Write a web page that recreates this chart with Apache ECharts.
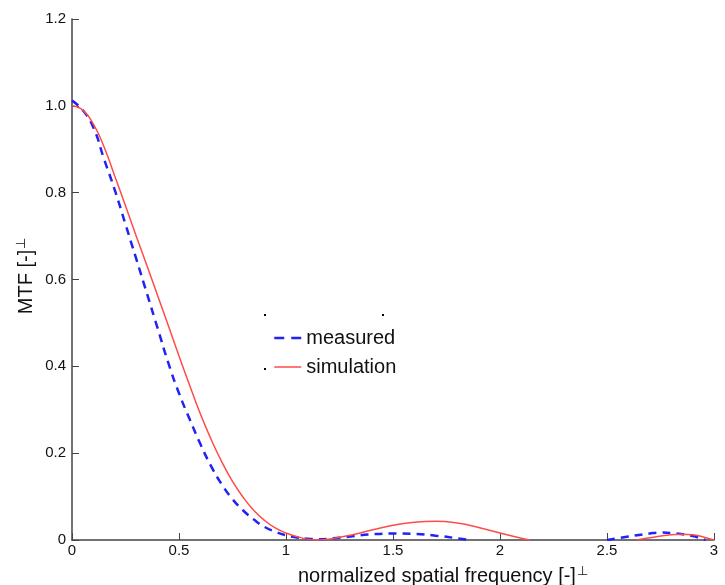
<!DOCTYPE html>
<html><head><meta charset="utf-8">
<script src="https://cdn.jsdelivr.net/npm/echarts@6/dist/echarts.min.js"></script>
<style>html,body{margin:0;padding:0;background:#fff}#c{width:725px;height:585px}</style>
</head><body><div id="c"></div>
<script>
const measX = [0,0.05,0.1,0.15,0.2,0.25,0.3,0.35,0.4,0.45,0.5,0.55,0.6,0.65,0.7,0.75,0.8,0.85,0.9,0.95,1.0,1.05,1.1,1.15,1.2,1.3,1.4,1.5,1.6,1.7,1.8,1.86,null,2.5,2.6,2.7,2.75,2.8,2.9,2.96];
const measY = [1.012,0.99,0.95,0.877,0.806,0.727,0.648,0.568,0.488,0.408,0.338,0.278,0.221,0.17,0.128,0.094,0.068,0.047,0.03,0.019,0.011,0.006,0.003,0.002,0.003,0.008,0.013,0.015,0.014,0.01,0.004,0,null,0,0.008,0.015,0.017,0.016,0.009,0];
const simX = [0,0.05,0.1,0.15,0.2,0.25,0.3,0.35,0.4,0.45,0.5,0.55,0.6,0.65,0.7,0.75,0.8,0.85,0.9,0.95,1.0,1.05,1.1,1.15,1.2,1.3,1.4,1.5,1.6,1.7,1.8,1.9,2.0,2.1,2.14,null,2.64,2.7,2.8,2.85,2.9,2.95,3.0];
const simY = [1.0,0.99,0.958,0.905,0.838,0.77,0.70,0.632,0.563,0.494,0.424,0.356,0.29,0.232,0.18,0.135,0.098,0.068,0.045,0.028,0.016,0.008,0.002,0,0.002,0.011,0.023,0.034,0.041,0.043,0.039,0.029,0.016,0.004,0,null,0,0.005,0.012,0.013,0.012,0.007,0];
const xTicks = ['0','0.5','1','1.5','2','2.5','3'];
const yTicks = ['0','0.2','0.4','0.6','0.8','1.0','1.2'];
const seriesNames = ['measured','simulation'];
const xName = 'normalized spatial frequency [-]';
const yName = 'MTF [-]';

const pair = (xs, ys) => xs.map((x, i) => x === null ? [null, null] : [x, ys[i]]);
const FONT = 'Liberation Sans, Arial, sans-serif';
const BLUE = '#2222f5', RED = '#ff4b4b';
const chart = echarts.init(document.getElementById('c'));
chart.setOption({
  animation: false,
  backgroundColor: '#fff',
  grid: {left: 72, right: 11, top: 19, bottom: 45, containLabel: false, outerBoundsMode: 'none'},
  xAxis: {
    type: 'value', min: 0, max: 3, interval: 0.5,
    axisLine: {lineStyle: {color: '#444', width: 1.5}},
    axisTick: {inside: true, length: 7, lineStyle: {color: '#444'}},
    axisLabel: {fontFamily: FONT, fontSize: 15, color: '#111', margin: 3,
      formatter: v => xTicks[Math.round(v / 0.5)]},
    splitLine: {show: false}
  },
  yAxis: {
    type: 'value', min: 0, max: 1.2, interval: 0.2,
    axisLine: {show: true, lineStyle: {color: '#444', width: 1.5}},
    axisTick: {show: true, inside: true, length: 7, lineStyle: {color: '#444'}},
    axisLabel: {fontFamily: FONT, fontSize: 15, color: '#111', margin: 6,
      formatter: v => yTicks[Math.round(v / 0.2)]},
    splitLine: {show: false}
  },
  legend: {
    orient: 'vertical', left: 273, top: 328, padding: 0, itemWidth: 27, itemHeight: 14, itemGap: 9,
    textStyle: {fontFamily: FONT, fontSize: 20, color: '#111', lineHeight: 20},
    itemStyle: {opacity: 0},
    data: [
      {name: seriesNames[0], itemStyle: {opacity: 0}, lineStyle: {color: BLUE, width: 2.5, type: [10, 7]}},
      {name: seriesNames[1], itemStyle: {opacity: 0}, lineStyle: {color: RED, width: 1.5, type: 'solid'}}
    ]
  },
  series: [
    {name: seriesNames[0], type: 'line', data: pair(measX, measY), showSymbol: false, symbol: 'none',
      smooth: true, connectNulls: false,
      lineStyle: {color: BLUE, width: 2.5, type: [8, 6]}, itemStyle: {color: BLUE}},
    {name: seriesNames[1], type: 'line', data: pair(simX, simY), showSymbol: false, symbol: 'none',
      smooth: true, connectNulls: false, z: 3,
      lineStyle: {color: RED, width: 1.5}, itemStyle: {color: RED}}
  ],
  graphic: [
    {type: 'text', x: 298, y: 576, style: {
      text: '{a|' + xName + '}{s|\u22A5}', align: 'left', verticalAlign: 'middle', fill: '#111',
      rich: {a: {fontFamily: FONT, fontSize: 20, fill: '#111', lineHeight: 22},
             s: {fontFamily: FONT, fontSize: 13, fill: '#111', verticalAlign: 'top', lineHeight: 22, padding: [0, 0, 8, 1]}}}},
    {type: 'text', x: 26, y: 276, rotation: Math.PI / 2, style: {
      text: '{a|' + yName + '}{s|\u22A5}', align: 'center', verticalAlign: 'middle', fill: '#111',
      rich: {a: {fontFamily: FONT, fontSize: 20, fill: '#111', lineHeight: 22},
             s: {fontFamily: FONT, fontSize: 13, fill: '#111', verticalAlign: 'top', lineHeight: 22, padding: [0, 0, 8, 1]}}}},
    {type: 'rect', shape: {x: 264, y: 314, width: 2, height: 2}, style: {fill: '#000'}},
    {type: 'rect', shape: {x: 382, y: 314, width: 2, height: 2}, style: {fill: '#000'}},
    {type: 'rect', shape: {x: 264, y: 368, width: 2, height: 2}, style: {fill: '#000'}}
  ]
});
</script></body></html>
